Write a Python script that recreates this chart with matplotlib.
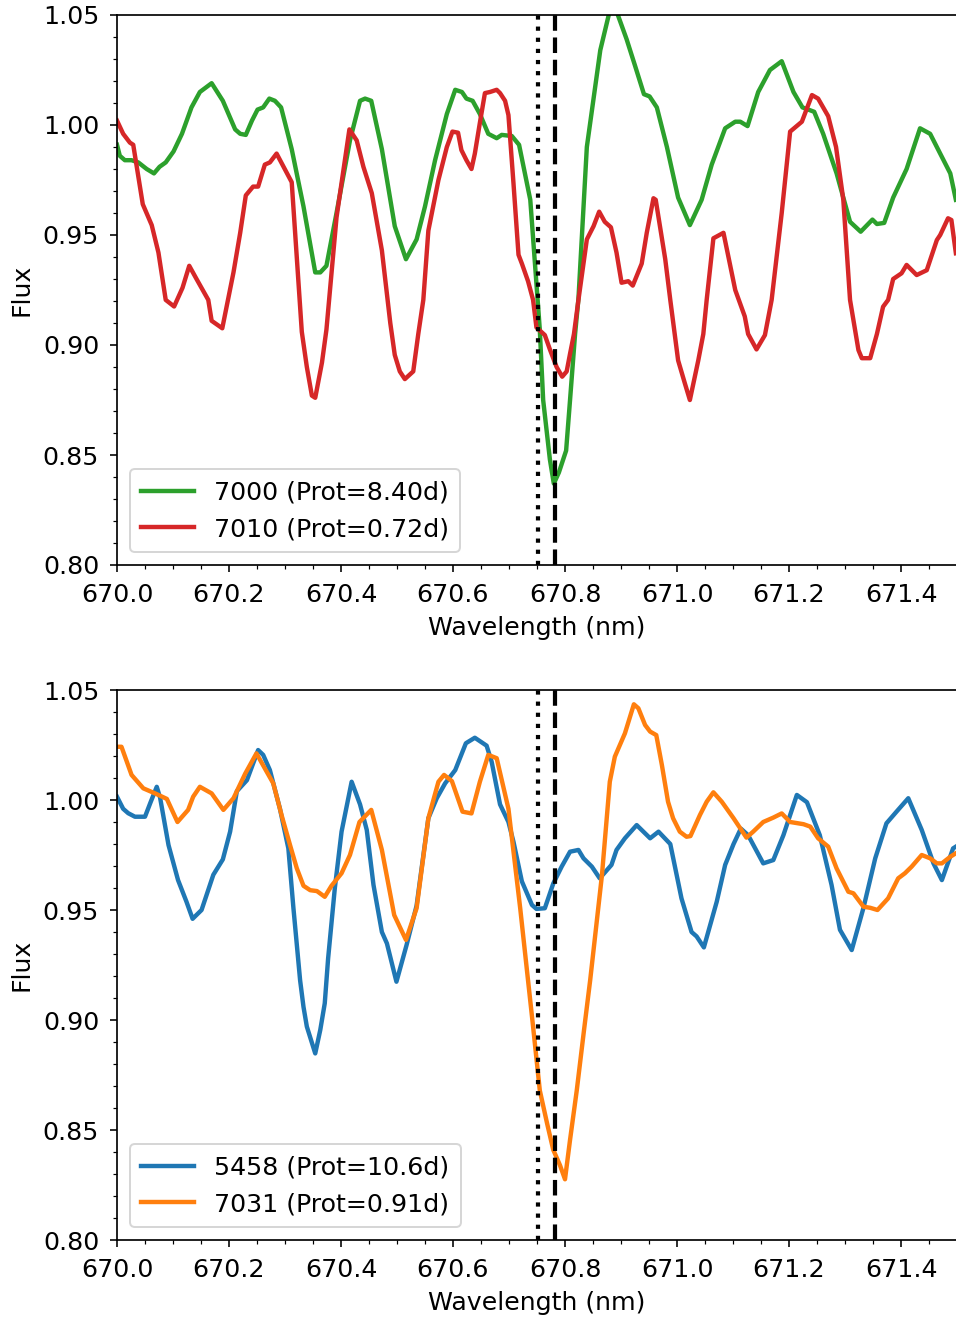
import numpy as np
import matplotlib
matplotlib.use("Agg")
import matplotlib.pyplot as plt
from matplotlib.ticker import MultipleLocator, FormatStrFormatter

# Li I 6708 region, two pairs of stars
# --- top panel: 7000 (slow) vs 7010 (fast) ---
wl_7000 = [670.000, 670.005, 670.014, 670.026, 670.038, 670.053, 670.066, 670.076, 670.087, 670.101,
           670.116, 670.133, 670.148, 670.169, 670.189, 670.211, 670.220, 670.230, 670.241, 670.251,
           670.261, 670.272, 670.282, 670.293, 670.312, 670.333, 670.354, 670.363, 670.374, 670.392,
           670.416, 670.434, 670.443, 670.454, 670.473, 670.496, 670.516, 670.535, 670.550, 670.568,
           670.589, 670.604, 670.616, 670.624, 670.635, 670.648, 670.663, 670.678, 670.687, 670.705,
           670.718, 670.738, 670.755, 670.761, 670.773, 670.780, 670.789, 670.802, 670.809, 670.818,
           670.824, 670.839, 670.863, 670.880, 670.893, 670.910, 670.925, 670.941, 670.951, 670.964,
           670.982, 671.002, 671.023, 671.044, 671.062, 671.086, 671.104, 671.113, 671.126, 671.145,
           671.166, 671.187, 671.208, 671.224, 671.245, 671.261, 671.285, 671.309, 671.328, 671.349,
           671.357, 671.370, 671.386, 671.410, 671.434, 671.452, 671.476, 671.488, 671.498]
flux_7000 = [0.991, 0.986, 0.984, 0.984, 0.983, 0.980, 0.978, 0.981, 0.983, 0.988,
             0.996, 1.008, 1.015, 1.019, 1.011, 0.998, 0.996, 0.9955, 1.002, 1.007,
             1.008, 1.012, 1.011, 1.008, 0.989, 0.963, 0.933, 0.933, 0.936, 0.960,
             0.993, 1.011, 1.012, 1.011, 0.989, 0.954, 0.939, 0.948, 0.963, 0.984,
             1.005, 1.016, 1.015, 1.012, 1.011, 1.005, 0.996, 0.994, 0.9955, 0.995,
             0.991, 0.966, 0.907, 0.875, 0.848, 0.837, 0.842, 0.852, 0.875, 0.905,
             0.921, 0.990, 1.034, 1.052, 1.051, 1.039, 1.027, 1.014, 1.013, 1.008,
             0.990, 0.967, 0.9545, 0.966, 0.982, 0.9985, 1.0015, 1.0015, 0.9995, 1.015,
             1.025, 1.029, 1.015, 1.008, 1.006, 0.996, 0.978, 0.956, 0.9515, 0.957,
             0.955, 0.9555, 0.967, 0.980, 0.9985, 0.996, 0.984, 0.978, 0.966]

wl_7010 = [670.000, 670.011, 670.023, 670.029, 670.046, 670.062, 670.074, 670.087, 670.102, 670.117,
           670.129, 670.142, 670.163, 670.169, 670.188, 670.208, 670.220, 670.230, 670.243, 670.252,
           670.264, 670.273, 670.285, 670.312, 670.330, 670.339, 670.348, 670.354, 670.366, 670.374,
           670.392, 670.415, 670.428, 670.440, 670.455, 670.473, 670.488, 670.496, 670.505, 670.514,
           670.529, 670.538, 670.547, 670.556, 670.574, 670.589, 670.599, 670.609, 670.615, 670.624,
           670.633, 670.639, 670.648, 670.657, 670.666, 670.678, 670.684, 670.693, 670.699, 670.708,
           670.717, 670.723, 670.734, 670.743, 670.749, 670.764, 670.773, 670.785, 670.795, 670.803,
           670.809, 670.816, 670.824, 670.839, 670.851, 670.861, 670.871, 670.882, 670.892, 670.901,
           670.913, 670.921, 670.937, 670.946, 670.958, 670.962, 670.979, 670.988, 671.002, 671.014,
           671.023, 671.038, 671.047, 671.053, 671.065, 671.083, 671.104, 671.121, 671.127, 671.142,
           671.157, 671.169, 671.187, 671.202, 671.209, 671.223, 671.241, 671.252, 671.270, 671.284,
           671.297, 671.309, 671.324, 671.330, 671.345, 671.357, 671.368, 671.377, 671.386, 671.401,
           671.410, 671.428, 671.446, 671.464, 671.470, 671.484, 671.490, 671.498]
flux_7010 = [1.002, 0.996, 0.992, 0.991, 0.964, 0.9545, 0.942, 0.9205, 0.9175, 0.926,
             0.936, 0.930, 0.9205, 0.911, 0.9076, 0.933, 0.951, 0.968, 0.972, 0.972,
             0.982, 0.983, 0.987, 0.974, 0.906, 0.890, 0.877, 0.876, 0.892, 0.907,
             0.958, 0.998, 0.993, 0.981, 0.969, 0.943, 0.910, 0.8955, 0.888, 0.8845,
             0.888, 0.905, 0.9205, 0.952, 0.975, 0.990, 0.997, 0.9965, 0.9886, 0.984,
             0.980, 0.987, 1.001, 1.0145, 1.015, 1.016, 1.0145, 1.011, 1.0045, 0.9735,
             0.941, 0.937, 0.929, 0.9205, 0.908, 0.9045, 0.898, 0.890, 0.8856, 0.888,
             0.896, 0.905, 0.9205, 0.948, 0.954, 0.9606, 0.956, 0.9535, 0.942, 0.9283,
             0.929, 0.927, 0.937, 0.951, 0.9667, 0.966, 0.939, 0.9205, 0.893, 0.8826,
             0.875, 0.893, 0.905, 0.9205, 0.9485, 0.951, 0.925, 0.913, 0.905, 0.898,
             0.9045, 0.9205, 0.960, 0.997, 0.9985, 1.0015, 1.0136, 1.012, 1.004, 0.990,
             0.966, 0.9205, 0.8977, 0.894, 0.894, 0.905, 0.9174, 0.9205, 0.930, 0.9326,
             0.9364, 0.9318, 0.934, 0.9477, 0.950, 0.9576, 0.9568, 0.9417]

# --- bottom panel: 5458 (slow) vs 7031 (fast) ---
wl_5458 = [670.000, 670.011, 670.020, 670.032, 670.050, 670.060, 670.071, 670.077, 670.092, 670.109,
           670.124, 670.135, 670.151, 670.172, 670.189, 670.202, 670.214, 670.232, 670.252, 670.261,
           670.273, 670.291, 670.306, 670.315, 670.327, 670.333, 670.339, 670.354, 670.363, 670.371,
           670.377, 670.389, 670.401, 670.419, 670.434, 670.446, 670.458, 670.473, 670.482, 670.499,
           670.517, 670.535, 670.556, 670.571, 670.586, 670.604, 670.623, 670.639, 670.660, 670.669,
           670.684, 670.699, 670.708, 670.723, 670.741, 670.749, 670.764, 670.779, 670.794, 670.809,
           670.824, 670.833, 670.848, 670.862, 670.883, 670.892, 670.907, 670.928, 670.952, 670.967,
           670.988, 671.008, 671.026, 671.035, 671.048, 671.071, 671.086, 671.101, 671.114, 671.127,
           671.154, 671.172, 671.190, 671.214, 671.232, 671.255, 671.276, 671.291, 671.312, 671.333,
           671.354, 671.374, 671.392, 671.413, 671.437, 671.458, 671.473, 671.493, 671.498]
flux_5458 = [1.0015, 0.996, 0.994, 0.9924, 0.9924, 0.999, 1.006, 1.001, 0.9795, 0.9636,
             0.9538, 0.946, 0.950, 0.966, 0.973, 0.9856, 1.004, 1.009, 1.0227, 1.0205,
             1.0136, 0.996, 0.978, 0.951, 0.918, 0.906, 0.897, 0.8848, 0.8955, 0.9076,
             0.928, 0.960, 0.9856, 1.0083, 0.998, 0.9864, 0.9614, 0.940, 0.9348, 0.9174,
             0.934, 0.952, 0.9917, 1.0008, 1.0076, 1.0136, 1.0258, 1.0283, 1.0247, 1.0174,
             0.998, 0.990, 0.981, 0.963, 0.9523, 0.9505, 0.9508, 0.962, 0.9697, 0.9765,
             0.9773, 0.9735, 0.9697, 0.9644, 0.9705, 0.9773, 0.9826, 0.9886, 0.9826, 0.9856,
             0.980, 0.9553, 0.940, 0.938, 0.933, 0.9538, 0.9705, 0.980, 0.987, 0.984,
             0.9712, 0.9727, 0.984, 1.0023, 0.999, 0.984, 0.9614, 0.941, 0.9318, 0.951,
             0.9735, 0.9894, 0.9947, 1.0008, 0.9864, 0.9712, 0.9636, 0.978, 0.9788]

wl_7031 = [670.000, 670.008, 670.026, 670.047, 670.068, 670.089, 670.108, 670.127, 670.136, 670.148,
           670.169, 670.190, 670.208, 670.229, 670.249, 670.267, 670.279, 670.294, 670.309, 670.321,
           670.333, 670.345, 670.357, 670.371, 670.383, 670.401, 670.416, 670.433, 670.454, 670.473,
           670.495, 670.516, 670.535, 670.556, 670.574, 670.584, 670.598, 670.617, 670.633, 670.648,
           670.663, 670.678, 670.699, 670.720, 670.734, 670.743, 670.755, 670.768, 670.779, 670.791,
           670.800, 670.809, 670.821, 670.834, 670.845, 670.866, 670.880, 670.889, 670.907, 670.923,
           670.931, 670.943, 670.952, 670.963, 670.973, 670.984, 670.993, 671.005, 671.017, 671.024,
           671.041, 671.053, 671.065, 671.080, 671.101, 671.124, 671.136, 671.154, 671.172, 671.187,
           671.202, 671.226, 671.238, 671.252, 671.270, 671.285, 671.306, 671.315, 671.333, 671.345,
           671.358, 671.377, 671.395, 671.407, 671.419, 671.437, 671.452, 671.464, 671.473, 671.488,
           671.498]
flux_7031 = [1.0242, 1.0242, 1.0114, 1.0053, 1.003, 1.0005, 0.990, 0.9955, 1.0015, 1.006,
             1.003, 0.9955, 1.0008, 1.012, 1.0212, 1.013, 1.0076, 0.993, 0.9795, 0.969,
             0.961, 0.959, 0.9586, 0.956, 0.961, 0.9667, 0.975, 0.990, 0.9955, 0.9773,
             0.9477, 0.9364, 0.9508, 0.9917, 1.0083, 1.0114, 1.0086, 0.9947, 0.9939, 1.0083,
             1.0205, 1.019, 0.996, 0.9508, 0.918, 0.897, 0.868, 0.853, 0.841, 0.834,
             0.8276, 0.8455, 0.868, 0.8955, 0.9182, 0.9659, 1.0083, 1.0197, 1.0303, 1.0435,
             1.0417, 1.0341, 1.0311, 1.0295, 1.0159, 0.9992, 0.9917, 0.9856, 0.9833, 0.9836,
             0.9932, 0.9992, 1.0035, 0.9992, 0.9917, 0.9829, 0.9856, 0.990, 0.992, 0.9939,
             0.990, 0.989, 0.9879, 0.9826, 0.9788, 0.9689, 0.9583, 0.9576, 0.9515, 0.951,
             0.950, 0.9553, 0.9644, 0.9667, 0.9697, 0.975, 0.9735, 0.9712, 0.9712, 0.9742,
             0.9758]

# reference line positions (nm)
line_dotted = 670.752
line_dashed = 670.782

panels = [
    [(wl_7000, flux_7000, "7000 (Prot=8.40d)", "tab:green"),
     (wl_7010, flux_7010, "7010 (Prot=0.72d)", "tab:red")],
    [(wl_5458, flux_5458, "5458 (Prot=10.6d)", "tab:blue"),
     (wl_7031, flux_7031, "7031 (Prot=0.91d)", "tab:orange")],
]

plt.rcParams["font.size"] = 12.6
plt.rcParams["axes.linewidth"] = 0.85
plt.rcParams["axes.labelpad"] = 4.5
for ax_name in ("xtick", "ytick"):
    plt.rcParams[ax_name + ".major.size"] = 3.7
    plt.rcParams[ax_name + ".minor.size"] = 2.1
    plt.rcParams[ax_name + ".major.pad"] = 5.2

fig = plt.figure(figsize=(956 / 144, 1322 / 144), dpi=144)

left = 117 / 956
width = 840 / 956
height = 550 / 1322
bottoms = [(1322 - 565) / 1322, (1322 - 1240) / 1322]

for bottom, series in zip(bottoms, panels):
    ax = fig.add_axes([left, bottom, width, height])
    for wl, fl, label, color in series:
        ax.plot(wl, fl, color=color, lw=2.2, label=label)
    ax.axvline(line_dotted, color="k", ls=":", lw=2.1)
    ax.axvline(line_dashed, color="k", ls="--", lw=2.1)
    ax.set_xlim(670.0, 671.5)
    ax.set_ylim(0.80, 1.05)
    ax.xaxis.set_major_locator(MultipleLocator(0.2))
    ax.xaxis.set_minor_locator(MultipleLocator(0.05))
    ax.xaxis.set_major_formatter(FormatStrFormatter("%.1f"))
    ax.yaxis.set_major_locator(MultipleLocator(0.05))
    ax.yaxis.set_minor_locator(MultipleLocator(0.01))
    ax.yaxis.set_major_formatter(FormatStrFormatter("%.2f"))
    ax.set_xlabel("Wavelength (nm)")
    ax.set_ylabel("Flux")
    ax.legend(loc="lower left", handlelength=2.1, borderpad=0.45)

plt.savefig("out.png", dpi=144)
